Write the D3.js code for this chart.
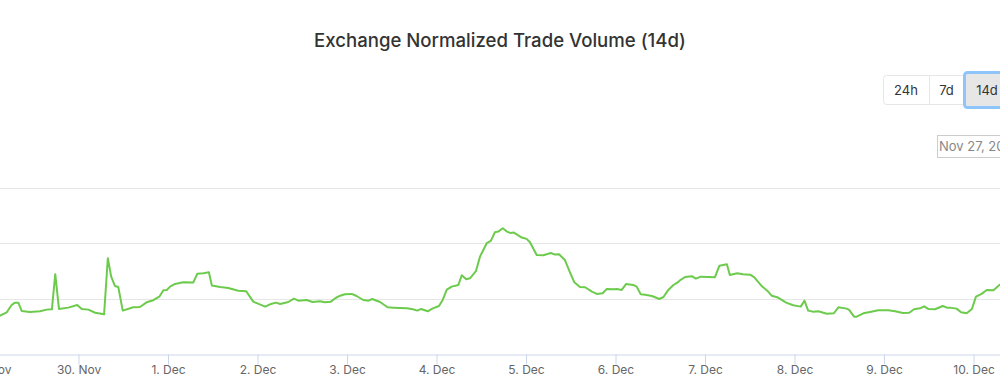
<!DOCTYPE html>
<html>
<head>
<meta charset="utf-8">
<script src="https://cdn.jsdelivr.net/npm/d3@7"></script>
<style>
  body { margin: 0; background: #fff; }
  svg { display: block; font-family: Inter, "Noto Sans", sans-serif; }
</style>
</head>
<body>
<svg width="1000" height="382"></svg>
<script>
var width = 1000;
var height = 382;

// Data: hours since 29 Nov 00:00 UTC, normalized volume.
var startDate = new Date(Date.UTC(2019, 10, 29));
var hours = [1.5, 3.1, 4.9, 6.2, 7.1, 8.0, 8.9, 11.1, 13.8, 15.6, 17.0, 17.9, 18.9, 21.4, 23.8,
  25.0, 26.8, 28.6, 31.0, 32.0, 32.9, 33.9, 34.8, 36.0, 38.8, 40.6, 42.4, 44.2, 45.8, 46.9,
  47.8, 48.7, 50.0, 52.2, 54.9, 56.0, 57.6, 59.1, 59.9, 62.1, 64.3, 67.0, 69.1, 71.0, 74.2,
  75.5, 77.1, 78.2, 80.4, 81.9, 83.1, 85.3, 86.9, 88.9, 90.2, 91.8, 93.1, 94.3, 95.6, 97.4,
  98.7, 100.5, 101.9, 102.9, 105.0, 107.0, 108.6, 112.2, 113.8, 115.0, 116.0, 117.8, 119.0, 120.8, 121.8,
  122.9, 124.2, 126.0, 126.9, 128.1, 129.1, 130.7, 131.8, 133.6, 134.7, 135.8, 136.7, 137.9, 139.0, 139.9,
  140.9, 143.0, 144.3, 145.2, 147.0, 148.8, 150.8, 151.9, 153.0, 154.6, 155.9, 157.1, 158.6, 160.0, 161.8,
  163.1, 164.7, 165.8, 167.6, 168.5, 169.8, 171.0, 172.9, 173.8, 174.9, 176.1, 177.9, 179.9, 181.0, 182.3,
  183.6, 185.0, 185.4, 186.8, 188.6, 189.7, 191.0, 194.8, 196.0, 198.0, 198.8, 200.8, 202.3, 204.2, 205.3,
  207.3, 208.9, 210.0, 211.5, 213.9, 215.8, 217.8, 218.8, 219.8, 221.2, 222.5, 224.8, 226.7, 227.9, 230.1,
  230.8, 232.1, 232.8, 234.6, 236.4, 238.6, 241.3, 243.1, 245.2, 246.9, 248.2, 249.8, 250.9, 252.0, 253.8,
  255.9, 257.0, 257.8, 259.6, 260.8, 262.3, 263.7, 264.8, 266.3, 267.7, 269.5, 271.1, 272.9];
var volume = [32.6, 34.6, 37.7, 44.3, 46.4, 46.4, 38.9, 38.0, 38.6, 40.1, 40.4, 72.1, 40.7, 41.9, 44.3,
  40.7, 40.1, 37.3, 35.9, 86.5, 69.9, 61.5, 60.6, 39.2, 42.2, 42.5, 46.7, 48.6, 51.8, 57.6,
  57.9, 60.9, 63.3, 64.8, 64.5, 72.6, 73.0, 73.9, 61.8, 60.6, 59.7, 57.2, 56.7, 47.3, 42.8,
  44.9, 46.4, 45.2, 47.0, 50.0, 48.2, 48.8, 47.0, 47.7, 46.7, 47.3, 50.6, 52.7, 54.0, 54.3,
  52.4, 48.8, 48.2, 49.7, 47.0, 42.2, 41.9, 41.3, 40.4, 39.2, 40.7, 38.6, 41.0, 43.4, 48.8,
  58.1, 60.9, 62.4, 71.2, 67.5, 68.4, 74.8, 88.0, 100.1, 102.2, 110.0, 110.6, 113.7, 110.6, 109.4,
  109.7, 105.2, 104.0, 101.0, 89.5, 89.2, 91.3, 89.8, 90.1, 84.7, 73.9, 64.8, 60.6, 60.3, 56.3,
  54.3, 54.9, 58.8, 58.5, 58.8, 57.9, 63.3, 62.4, 60.9, 54.0, 53.6, 52.4, 49.7, 51.5, 57.9,
  62.1, 65.1, 66.6, 69.6, 70.3, 68.1, 69.9, 69.4, 79.8, 81.1, 71.4, 73.0, 72.1, 71.7, 69.4,
  61.5, 57.0, 52.7, 51.3, 46.4, 44.0, 42.8, 48.2, 39.2, 38.2, 38.6, 36.4, 36.8, 42.2, 41.0,
  39.8, 33.7, 33.7, 36.8, 38.0, 39.5, 39.5, 38.6, 37.1, 37.3, 40.4, 41.3, 43.1, 40.7, 40.4,
  43.4, 41.9, 41.9, 41.0, 37.7, 36.8, 40.7, 51.8, 54.3, 57.9, 57.6, 62.4, 66.0];
var gridValues = [50, 100, 150];
var rangeButtons = ["24h", "7d", "14d"];
var selectedRange = "14d";
var titleText = "Exchange Normalized Trade Volume (14d)";
var fromDateText = "Nov 27, 2019";

var series = hours.map(function (h, i) {
  return {date: new Date(startDate.getTime() + h * 3600000), value: volume[i]};
});

var svg = d3.select("svg");

// Scales (the plot is wider than the window; left and right are cut off)
var xScale = d3.scaleUtc()
  .domain([startDate, d3.utcDay.offset(startDate, 12)])
  .range([-11.5, 1062.5]);
var yScale = d3.scaleLinear().domain([0, 150]).range([354, 188]);

// title
svg.append("text")
  .attr("x", width / 2)
  .attr("y", 47)
  .attr("text-anchor", "middle")
  .style("font-size", "18.6px")
  .style("font-weight", 500)
  .style("fill", "#333")
  .text(titleText);

// range buttons
var btnX = [883, 929, 964];
var btnW = [46, 35, 46];
var buttons = svg.append("g");
buttons.append("rect")
  .attr("x", 883.5).attr("y", 75.5)
  .attr("width", 140).attr("height", 29)
  .attr("rx", 3)
  .attr("fill", "#fff").attr("stroke", "#e6e6e6");
rangeButtons.forEach(function (label, i) {
  var selected = label === selectedRange;
  if (i > 0) {
    buttons.append("line")
      .attr("x1", btnX[i] + 0.5).attr("x2", btnX[i] + 0.5)
      .attr("y1", 76).attr("y2", 104)
      .attr("stroke", "#e6e6e6");
  }
  if (selected) {
    buttons.append("rect")
      .attr("x", btnX[i] + 0.5).attr("y", 72.5)
      .attr("width", btnW[i]).attr("height", 35)
      .attr("rx", 3)
      .attr("fill", "#e6e6e6")
      .attr("stroke", "#8ec6fb")
      .attr("stroke-width", 3);
  }
  buttons.append("text")
    .attr("x", btnX[i] + btnW[i] / 2)
    .attr("y", 95)
    .attr("text-anchor", "middle")
    .style("font-size", "13px")
    .style("fill", "#333")
    .text(label);
});

// date input box
svg.append("rect")
  .attr("x", 937.5).attr("y", 135.5)
  .attr("width", 100).attr("height", 22)
  .attr("fill", "#fff").attr("stroke", "#cccccc");
svg.append("text")
  .attr("x", 939).attr("y", 151)
  .style("font-size", "13px")
  .style("fill", "#888")
  .text(fromDateText);

// gridlines
svg.append("g")
  .selectAll("line")
  .data(gridValues)
  .enter()
  .append("line")
  .attr("x1", 0).attr("x2", width)
  .attr("y1", function (d) { return Math.round(yScale(d)) + 0.5; })
  .attr("y2", function (d) { return Math.round(yScale(d)) + 0.5; })
  .attr("stroke", "#e6e6e6");

// x axis
var axisBottom = d3.axisBottom(xScale)
  .ticks(d3.utcDay.every(1))
  .tickFormat(d3.utcFormat("%-d. %b"))
  .tickSize(10)
  .tickSizeOuter(0)
  .tickPadding(1);
var xAxis = svg.append("g")
  .attr("transform", "translate(0.5,354.5)")
  .call(axisBottom);
xAxis.select(".domain").attr("stroke", "#ccd6eb");
xAxis.selectAll(".tick line").attr("stroke", "#ccd6eb");
xAxis.selectAll(".tick text")
  .attr("fill", "#666")
  .style("font-size", "12px")
  .style("font-family", "Inter, sans-serif");

// the line
var line = d3.line()
  .x(function (d) { return xScale(d.date); })
  .y(function (d) { return yScale(d.value); });

svg.append("path")
  .datum(series)
  .attr("d", line)
  .attr("fill", "none")
  .attr("stroke", "#6ccb4c")
  .attr("stroke-width", 2)
  .attr("stroke-linejoin", "round")
  .attr("stroke-linecap", "round");
</script>
</body>
</html>
